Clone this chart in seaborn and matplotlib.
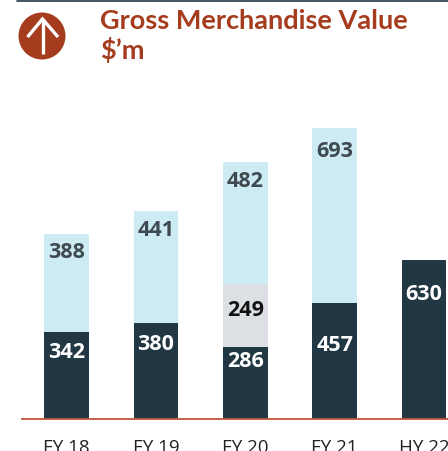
#!/usr/bin/env python3

import matplotlib
matplotlib.use("Agg")
import matplotlib.pyplot as plt
import numpy as np
import seaborn as sns
from matplotlib.patches import Circle

periods = ["FY 18", "FY 19", "FY 20", "FY 21", "HY 22"]
base_values = [342, 380, 286, 457, 630]
mid_values = [0, 0, 249, 0, 0]
top_values = [388, 441, 482, 693, 0]

# how far below the top of its segment each label sits, in pixels
base_drop = [19, 21, 14, 41, 34]
mid_drop = [0, 0, 26, 0, 0]
top_drop = [17, 18, 19, 23, 0]

DARK = "#213743"
GREY = "#DCE0E4"
LIGHT = "#CDEBF2"
RUST = "#A63C1E"
W, H = 448, 452

sns.set_theme(style="white")
plt.rcParams["font.family"] = ["Lato", "DejaVu Sans"]

fig = plt.figure(figsize=(W / 100, H / 100), dpi=100)
ax = fig.add_axes([21.5 / W, (H - 420) / H, (W - 21.5) / W, 320 / H])

base = np.array(base_values)
mid = base + np.array(mid_values)
top = mid + np.array(top_values)

bar_style = dict(saturation=1, width=0.5, linewidth=0, ax=ax)
sns.barplot(x=periods, y=base_values, color=DARK, **bar_style)
sns.barplot(x=periods, y=mid_values, bottom=base, color=GREY, **bar_style)
sns.barplot(x=periods, y=top_values, bottom=mid, color=LIGHT, **bar_style)

ax.set_xlim(-0.503, 4.268)
ax.set_ylim(0, 1264)
ax.set_yticks([])
ax.tick_params(axis="x", length=0, pad=14, labelcolor="#222222")
for tick in ax.get_xticklabels():
    tick.set_fontfamily(["Open Sans", "DejaVu Sans"])
    tick.set_fontsize(13.5)
sns.despine(ax=ax, left=True)
ax.spines["bottom"].set_color("#C0573A")
ax.spines["bottom"].set_linewidth(1.3)


def add_labels(tops, values, drops, color):
    for i, (t, v, d) in enumerate(zip(tops, values, drops)):
        if v:
            ax.annotate(str(v), (i, t), xytext=(0, -d * 0.72), textcoords="offset points",
                        ha="center", va="center", fontsize=15.5, fontweight="bold", color=color,
                        family=["Open Sans", "DejaVu Sans"])


add_labels(base, base_values, base_drop, "white")
add_labels(mid, mid_values, mid_drop, "#111111")
add_labels(top, top_values, top_drop, "#3F4A50")

# header drawn in pixel coordinates
head = fig.add_axes([0, 0, 1, 1], facecolor="none")
head.set_xlim(0, W)
head.set_ylim(H, 0)
head.axis("off")
head.plot([17, W], [1.5, 1.5], color=DARK, lw=1.2)
head.add_patch(Circle((42, 37), 23.5, color=RUST, lw=0))
head.plot([42.5, 42.5], [20, 55], color="white", lw=2.4, solid_capstyle="butt")
head.plot([27.5, 42.5, 58], [38, 20, 38], color="white", lw=2.4, solid_joinstyle="miter", solid_capstyle="butt")
head.text(100, 21, "Gross Merchandise Value", color=RUST, fontsize=19.5, fontweight="bold", va="center")
head.text(100, 50, "$\u2019m", color=RUST, fontsize=19.5, fontweight="bold", va="center")

fig.savefig("out.png", dpi=100)
